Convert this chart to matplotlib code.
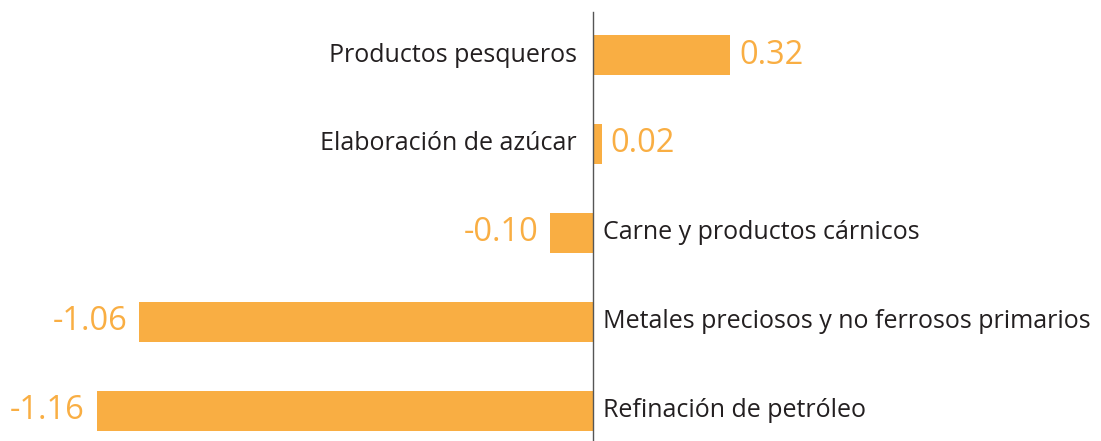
import matplotlib.pyplot as plt

categories = ['Productos pesqueros', 'Elaboración de azúcar', 'Carne y productos cárnicos',
              'Metales preciosos y no ferrosos primarios', 'Refinación de petróleo']
values = [0.32, 0.02, -0.10, -1.06, -1.16]
value_labels = ['0.32', '0.02', '-0.10', '-1.06', '-1.16']

bar_color = '#F9AE43'
plt.rcParams['font.family'] = ['Open Sans', 'DejaVu Sans']

fig = plt.figure(figsize=(11.01, 4.41), dpi=100)
ax = fig.add_axes([0, 0, 1, 1])

ypos = list(range(len(categories)))
ax.barh(ypos, values, height=0.45, color=bar_color)

# pixel scale: ~428 px per unit, zero at x=593
ax.set_xlim(-593 / 428, 508 / 428)
ax.set_ylim(386 / 89, -55 / 89)
ax.axis('off')
ax.axvline(0, ymin=0, ymax=(441 - 12) / 441, color='#555555', lw=1)

px = 1 / 428
for y, v, cat, lab in zip(ypos, values, categories, value_labels):
    if v >= 0:
        ax.text(-16 * px, y, cat, ha='right', va='center', fontsize=18, color='#231F20')
        ax.text(v + 9 * px, y, lab, ha='left', va='center', fontsize=23.5, color=bar_color)
    else:
        ax.text(10 * px, y, cat, ha='left', va='center', fontsize=18, color='#231F20')
        ax.text(v - 12 * px, y, lab, ha='right', va='center', fontsize=23.5, color=bar_color)

fig.savefig('out.png', dpi=100)
